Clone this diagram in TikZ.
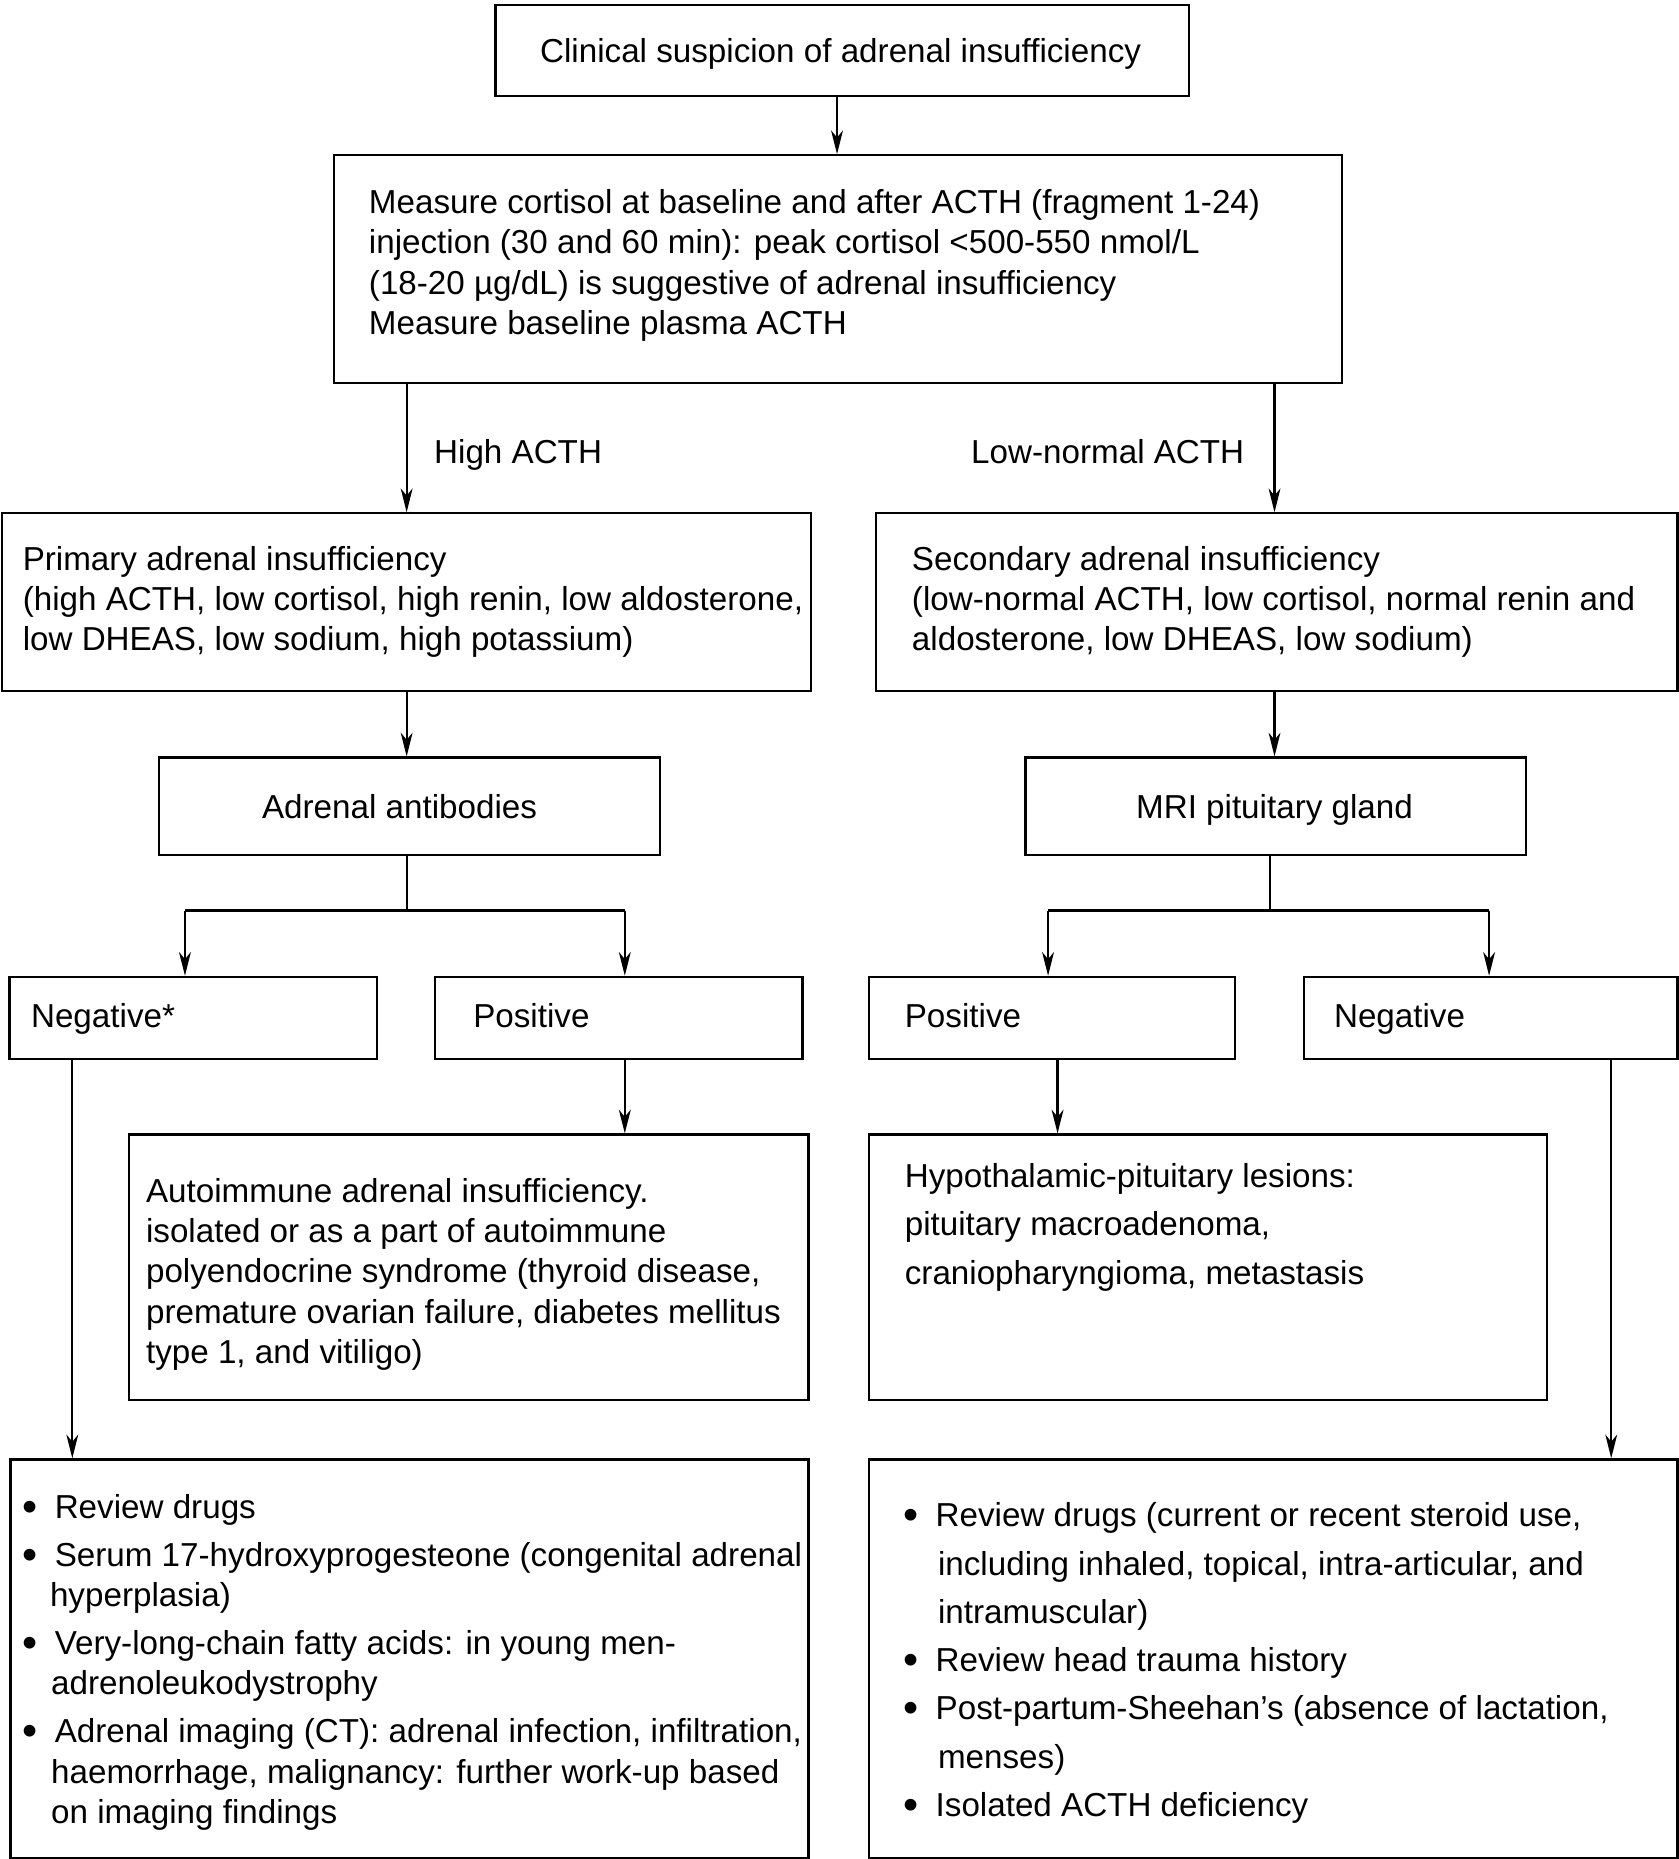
\documentclass[tikz,border=0pt]{standalone}
\usepackage{graphicx}
\usepackage{fontspec}
\setmainfont{Liberation Sans}
\usetikzlibrary{arrows.meta}
\tikzset{
  box/.style={draw, line width=1.9pt, inner sep=0pt, anchor=north west},
  txt/.style={font=\fontsize{28pt}{34pt}\selectfont, inner sep=0pt, align=left, anchor=base west},
  txtc/.style={font=\fontsize{28pt}{34pt}\selectfont, inner sep=0pt, anchor=base},
  arr/.style={line width=1.9pt, -{Stealth[length=20pt,width=10pt,inset=6pt]}},
  ln/.style={line width=1.9pt},
}
\newcommand{\bxnode}[5]{\node[box, minimum width={(#4-#2)*1pt}, minimum height={(#5-#3)*1pt}] (#1) at (#2,#3) {};}
\newcommand{\bul}{\makebox[27pt][l]{\raisebox{-2.5pt}{\scalebox{1.3}{•}}}}
\begin{document}
\begin{tikzpicture}[x=1pt,y=-1pt]
\useasboundingbox (0,0) rectangle (1416,1568);
% boxes
\bxnode{b1}{417}{3}{1002}{80}
\bxnode{b2}{281}{130}{1131}{322}
\bxnode{b3}{1}{432}{683}{582}
\bxnode{b4}{738}{432}{1414}{582}
\bxnode{b5}{133}{638}{556}{720}
\bxnode{b6}{864}{638}{1286}{720}
\bxnode{b7}{7}{823}{317}{892}
\bxnode{b8}{366}{823}{676}{892}
\bxnode{b9}{732}{823}{1041}{892}
\bxnode{b10}{1099}{823}{1414}{892}
\bxnode{b11}{108}{956}{681}{1180}
\bxnode{b12}{732}{956}{1304}{1180}
\bxnode{b13}{8}{1230}{681}{1566}
\bxnode{b14}{732}{1230}{1414}{1566}
% texts (multi-line nodes are placed at the baseline of their last line)
\node[txtc] (t1) at (709,53) {Clinical suspicion of adrenal insufficiency};
\node[txt] (t2) at (311,282) {Measure cortisol at baseline and after ACTH (fragment 1-24)\\
injection (30 and 60 min): peak cortisol <500-550 nmol/L\\
(18-20 µg/dL) is suggestive of adrenal insufficiency\\
Measure baseline plasma ACTH};
\node[txt] (lh) at (366,391) {High ACTH};
\node[txt] (ll) at (819,391) {Low-normal ACTH};
\node[txt] (t3) at (19,549) {Primary adrenal insufficiency\\
(high ACTH, low cortisol, high renin, low aldosterone,\\
low DHEAS, low sodium, high potassium)};
\node[txt] (t4) at (769,549) {Secondary adrenal insufficiency\\
(low-normal ACTH, low cortisol, normal renin and\\
aldosterone, low DHEAS, low sodium)};
\node[txtc] (t5) at (337,690) {Adrenal antibodies};
\node[txtc] (t6) at (1075,690) {MRI pituitary gland};
\node[txt] (t7) at (26,867) {Negative*};
\node[txt] (t8) at (399,867) {Positive};
\node[txt] (t9) at (763,867) {Positive};
\node[txt] (t10) at (1125,867) {Negative};
\node[txt] (t11) at (123,1150) {Autoimmune adrenal insufficiency.\\
isolated or as a part of autoimmune\\
polyendocrine syndrome (thyroid disease,\\
premature ovarian failure, diabetes mellitus\\
type 1, and vitiligo)};
\node[txt, font=\fontsize{28pt}{40.5pt}\selectfont] (t12) at (763,1083) {Hypothalamic-pituitary lesions:\\
pituitary macroadenoma,\\
craniopharyngioma, metastasis};
\node[txt] (t13) at (19,1538) {\bul Review drugs\\[6.5pt]
\bul Serum 17-hydroxyprogesteone (congenital adrenal\\
\hspace*{23pt}hyperplasia)\\[6.5pt]
\bul Very-long-chain fatty acids: in young men-\\
\hspace*{24pt}adrenoleukodystrophy\\[6.5pt]
\bul Adrenal imaging (CT): adrenal infection, infiltration,\\
\hspace*{24pt}haemorrhage, malignancy: further work-up based\\
\hspace*{24pt}on imaging findings};
\node[txt, font=\fontsize{28pt}{40.7pt}\selectfont] (t14) at (762,1532) {\bul Review drugs (current or recent steroid use,\\
\hspace*{29pt}including inhaled, topical, intra-articular, and\\
\hspace*{29pt}intramuscular)\\
\bul Review head trauma history\\
\bul Post-partum-Sheehan’s (absence of lactation,\\
\hspace*{29pt}menses)\\
\bul Isolated ACTH deficiency};
% coordinates for connectors
\coordinate (f1) at (343,768);
\coordinate (fl1) at (156,768);
\coordinate (fr1) at (527,768);
\coordinate (f2) at (1071,768);
\coordinate (fl2) at (884,768);
\coordinate (fr2) at (1256,768);
\coordinate (x9) at (892,0);
\coordinate (x7) at (61,0);
\coordinate (x10) at (1359,0);
\coordinate (x1) at (706,0);
\coordinate (xa) at (343,0);
\coordinate (xb) at (1075,0);
% connectors
\draw[arr] (b1.south -| x1) -- (b2.north -| x1);
\draw[arr] (b2.south -| xa) -- (b3.north -| xa);
\draw[arr] (b2.south -| xb) -- (b4.north -| xb);
\draw[arr] (b3.south -| xa) -- (b5.north -| xa);
\draw[arr] (b4.south -| xb) -- (b6.north -| xb);
\draw[ln] (b5.south -| f1) -- (f1);
\draw[ln] (fl1) -- (fr1);
\draw[arr] (fl1) -- (b7.north -| fl1);
\draw[arr] (fr1) -- (b8.north -| fr1);
\draw[ln] (b6.south -| f2) -- (f2);
\draw[ln] (fl2) -- (fr2);
\draw[arr] (fl2) -- (b9.north -| fl2);
\draw[arr] (fr2) -- (b10.north -| fr2);
\draw[arr] (b8.south -| fr1) -- (b11.north -| fr1);
\draw[arr] (b9.south -| x9) -- (b12.north -| x9);
\draw[arr] (b7.south -| x7) -- (b13.north -| x7);
\draw[arr] (b10.south -| x10) -- (b14.north -| x10);
\end{tikzpicture}
\end{document}
